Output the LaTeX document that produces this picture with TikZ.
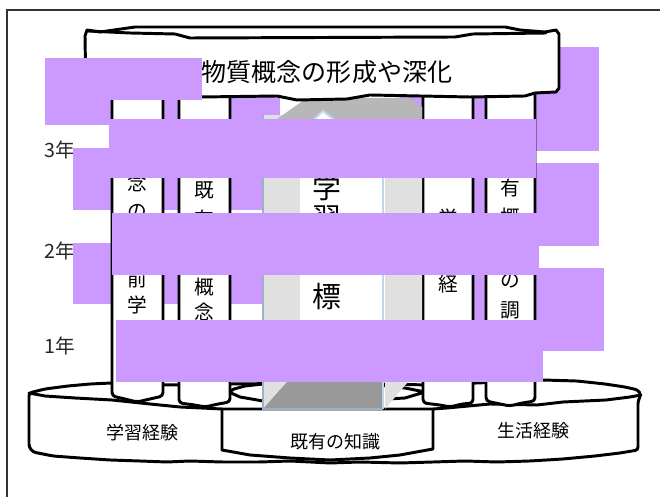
\documentclass[tikz,border=0pt]{standalone}
\usepackage{fontspec}
\setmainfont{Noto Sans CJK JP}
\usepackage{xcolor}
\usepackage{tikz}
\usetikzlibrary{calc}

\definecolor{veil}{HTML}{CC99FF}
\definecolor{sidegray}{HTML}{E0E0E0}
\definecolor{lidgray}{HTML}{B7B7B7}
\definecolor{basegray}{HTML}{999999}
\definecolor{edgeblue}{HTML}{BDD7EE}
\definecolor{edgeslate}{HTML}{9CB0C6}

\begin{document}
\begin{tikzpicture}[x=0.025cm,y=-0.025cm,
  ink/.style={draw=black,line width=2.1pt,line join=round,line cap=round},
  pillar/.style={ink,fill=white,rounded corners=2.5pt},
  glyph/.style={inner sep=0pt,font=\fontsize{14}{15}\selectfont},
  bigglyph/.style={inner sep=0pt,font=\fontsize{20.5}{22}\selectfont},
  year/.style={inner sep=0pt,anchor=west,text=black!85,font=\fontsize{14}{15}\selectfont},
  floor/.style={inner sep=0pt,font=\fontsize{12.8}{14}\selectfont}]
  \useasboundingbox (0,0) rectangle (660,497);
  % 外框
  \draw[line width=1.4pt,draw=black!80] (7,497) -- (7,10) -- (660,10);

  % 学年
  \node[year] (y3) at (44,150) {3年};
  \node[year] (y2) at (44,251) {2年};
  \node[year] (y1) at (44,346) {1年};

  % 柱子后面的色块
  \fill[veil] (45,58) rectangle (280,125);
  \fill[veil] (73,148) rectangle (263,210);
  \fill[veil] (73,243) rectangle (263,304);
  \fill[veil] (400,47) rectangle (599,151);
  \fill[veil] (423,163) rectangle (599,246);
  \fill[veil] (423,268) rectangle (604,351);

  % 底座
  \draw[ink,fill=white,rounded corners=2pt]
    (29,393) -- (45,389) -- (68,386) -- (90,384) -- (112,383) -- (170,385)
    -- (230,384) -- (330,383) -- (430,385) -- (500,382) -- (543,380)
    -- (577,381) -- (605,384) -- (625,387) -- (638,390) -- (641,395)
    -- (638,401) -- (638,450) -- (620,453) -- (595,456) -- (563,459)
    -- (530,461) -- (497,462) -- (465,461) -- (433,462) -- (400,463)
    -- (360,462) -- (330,463) -- (290,461) -- (260,462) -- (222,462)
    -- (190,461) -- (167,462) -- (140,461) -- (110,460) -- (80,458)
    -- (53,456) -- (33,452) -- (29,447) -- cycle;
  \draw[ink] (29,393) -- (45,396) -- (75,398) -- (112,400) -- (150,404)
    -- (180,407) -- (222,409) -- (433,409) -- (447,408) -- (490,404)
    -- (537,405) -- (563,402) -- (606,400) -- (630,397) -- (641,395);
  \draw[ink] (222,409) -- (222,450) -- (250,455) -- (290,458) -- (330,460)
    -- (370,458) -- (400,455) -- (433,449) -- (433,409);
  \draw[ink] (263,384) -- (245,386) -- (234,389) -- (229,392) -- (240,397) -- (263,401);
  \draw[ink] (385,386) -- (405,388) -- (425,392) -- (405,398) -- (387,399);

  % 四根柱子
  \draw[pillar] (112,92) -- (112,396) -- (125,399) -- (137,402) -- (150,399) -- (163,396) -- (163,92);
  \draw[pillar] (179,92) -- (179,403) -- (195,405) -- (205,407) -- (218,404) -- (230,402) -- (230,92);
  \draw[pillar] (423,92) -- (423,403) -- (440,405) -- (450,407) -- (462,404) -- (473,403) -- (473,92);
  \draw[pillar] (486,92) -- (486,401) -- (500,404) -- (510,406) -- (522,403) -- (535,401) -- (535,92);

  % 中间的立体箭头
  \fill[sidegray] (263,115) rectangle (300,409);
  \fill[sidegray] (385,107) -- (422,107) -- (422,382) -- (408,382) -- (385,409) -- cycle;
  \fill[lidgray] (277,119) -- (307,98) -- (410,98) -- (422,107) -- (422,119) -- cycle;
  \fill[white] (300,132) -- (323,111) -- (383,158) -- (383,382) -- (300,382) -- cycle;
  \fill[basegray] (263,409) -- (287,382) -- (383,382) -- (383,409) -- cycle;
  \draw[edgeblue,line width=1.4pt] (300,132) -- (323,111) -- (383,158) -- (383,409);
  \draw[edgeslate,line width=1.4pt] (263,115) -- (263,409) -- (383,409);

  % 顶上的横幅
  \draw[ink,fill=white] (86,97) -- (85,36) -- (87,30) -- (100,32) -- (135,27)
    -- (505,27) -- (520,30) -- (545,32) -- (556,30) -- (559,34) -- (559,88)
    -- (556,92) -- (535,93) -- (525,96) -- (470,97) -- (420,96) -- (370,95)
    -- (347,99) -- (297,100) -- (277,96) -- (200,97) -- (150,98) -- (100,97) -- cycle;
  \draw[ink] (88,31) -- (130,33) -- (175,34) -- (190,38) -- (455,37) -- (473,34) -- (546,33);
  \node[inner sep=0pt,font=\fontsize{17.8}{20}\selectfont] (topic) at (327,72) {物質概念の形成や深化};

  % 柱子上的字
  \foreach \ch/\yy [count=\i] in {念/183,の/212,前/279,学/305}
    \node[glyph] (a\i) at (137.5,\yy) {\ch};
  \foreach \ch/\yy [count=\i] in {既/190,有/219,概/287,念/312}
    \node[glyph] (b\i) at (204.5,\yy) {\ch};
  \foreach \ch/\yy [count=\i] in {学/218,経/284}
    \node[glyph] (c\i) at (448,\yy) {\ch};
  \foreach \ch/\yy [count=\i] in {有/188,概/217,の/281,調/310}
    \node[glyph] (d\i) at (510.5,\yy) {\ch};
  \foreach \ch/\yy [count=\i] in {学/187,習/218,標/297}
    \node[bigglyph] (g\i) at (327,\yy) {\ch};

  % 底座上的字
  \node[floor] (exp1) at (142,433) {学習経験};
  \node[floor] (know) at (335,442) {既有の知識};
  \node[floor] (exp2) at (533,431) {生活経験};

  % 前面的色块
  \fill[veil] (45,58) rectangle (202,100);
  \fill[veil] (109,119) rectangle (536,178);
  \fill[veil] (112,213) rectangle (539,275);
  \fill[veil] (116,320) rectangle (543,382);
\end{tikzpicture}
\end{document}
